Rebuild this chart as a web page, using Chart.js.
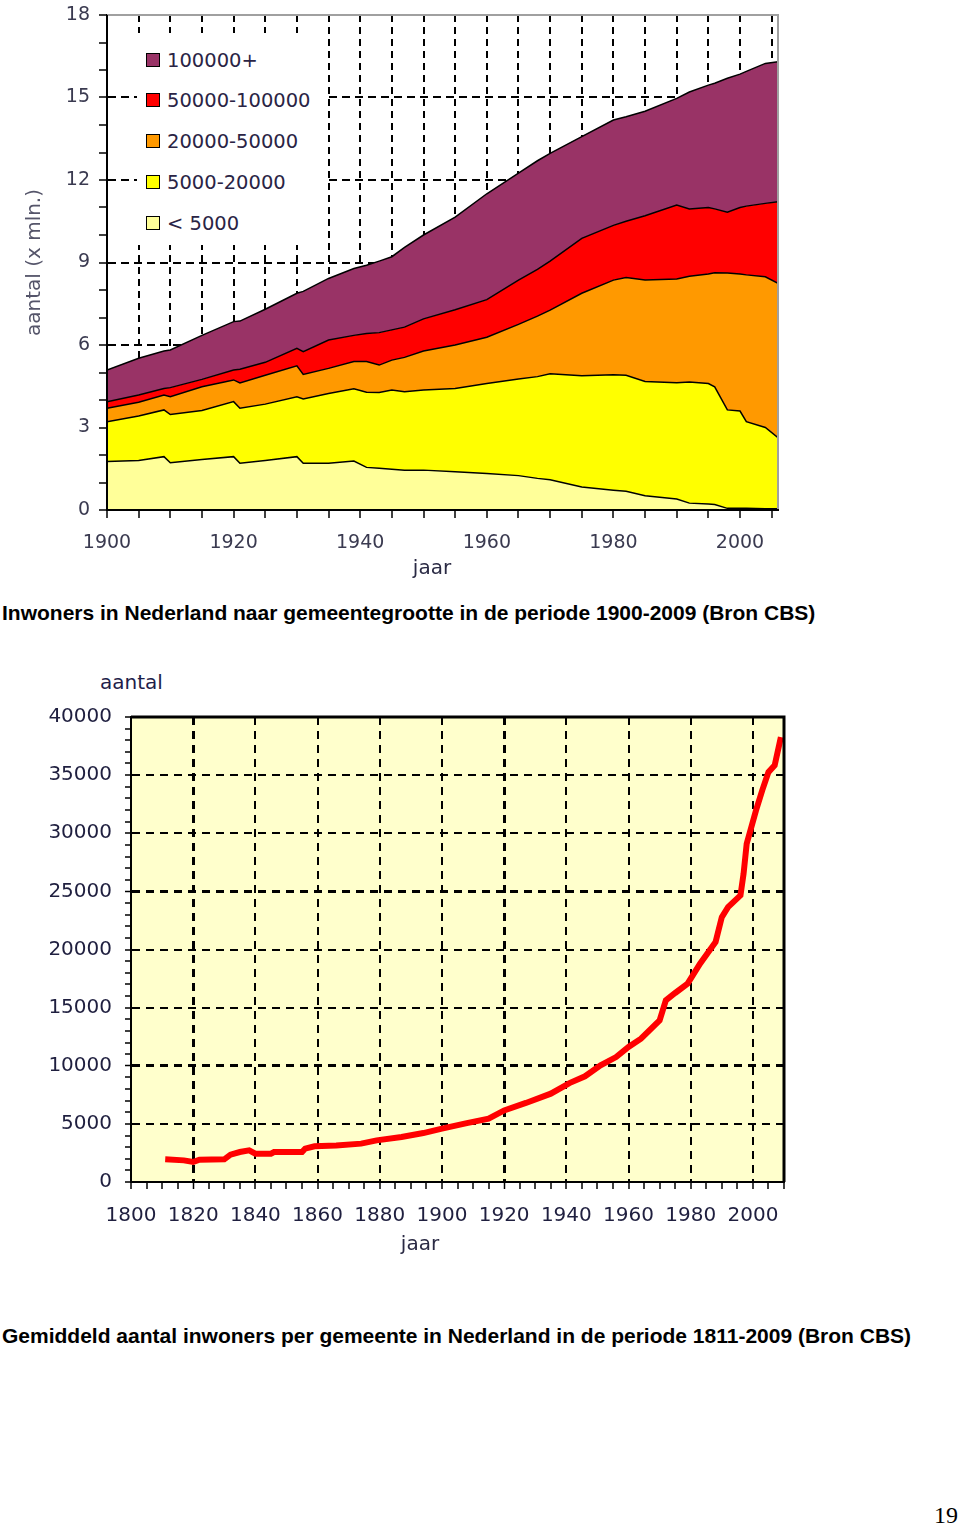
<!DOCTYPE html>
<html>
<head>
<meta charset="utf-8">
<script src="https://cdn.jsdelivr.net/npm/chart.js@4/dist/chart.umd.min.js"></script>
<style>
  body { margin: 0; background: #fff; width: 960px; height: 1524px; position: relative; font-family: "DejaVu Sans", sans-serif; }
  canvas { position: absolute; left: 0; }
  #bevolking { top: 0; }
  #gemiddeld { top: 700px; }
  .tekst { position: absolute; white-space: nowrap; line-height: 1; }
  .as { font-size: 20px; color: #2a2a44; transform: translate(-50%, -50%); }
  .bijschrift { font-family: "Liberation Sans", Arial, sans-serif; font-weight: bold; font-size: 21px; color: #000; left: 2px; transform: translateY(-50%); }
  #legenda { position: absolute; left: 137px; top: 33px; width: 190px; height: 212px; background: #fff; }
  #legenda .item { position: absolute; left: 9px; height: 20px; transform: translateY(-50%); display: flex; align-items: center; }
  #legenda .vak { width: 12px; height: 12px; border: 1px solid #000; }
  #legenda .naam { margin-left: 7px; font-size: 19.5px; color: #2a2445; }
  #pagina { font-family: "Liberation Serif", serif; font-size: 24px; right: 2px; top: 1515px; transform: translateY(-50%); }
</style>
</head>
<body>
<canvas id="bevolking" width="800" height="583"></canvas>
<div id="legenda"></div>
<div class="tekst as" style="left:432px; top:567px">jaar</div>
<div class="tekst bijschrift" style="top:612px">Inwoners in Nederland naar gemeentegrootte in de periode 1900-2009 (Bron CBS)</div>

<div class="tekst" style="left:100px; top:682px; font-size:20px; color:#1e1e4a; transform:translateY(-50%)">aantal</div>
<canvas id="gemiddeld" width="800" height="560"></canvas>
<div class="tekst as" style="left:420px; top:1243px">jaar</div>
<div class="tekst bijschrift" style="top:1335px">Gemiddeld aantal inwoners per gemeente in Nederland in de periode 1811-2009 (Bron CBS)</div>
<div class="tekst" id="pagina">19</div>

<script>
// inwoners (x mln.) per gemeentegrootte, 1900-2006
const jaren = [1900, 1905, 1909, 1910, 1915, 1920, 1921, 1925, 1930, 1931, 1935, 1939, 1941, 1943, 1945, 1947, 1950, 1955,
  1960, 1965, 1968, 1970, 1975, 1980, 1982, 1985, 1990, 1992, 1995, 1996, 1998, 2000, 2001, 2004, 2006];
const kleiner5000 = [1.76, 1.80, 1.94, 1.72, 1.84, 1.94, 1.70, 1.80, 1.94, 1.70, 1.70, 1.78, 1.55, 1.52, 1.48, 1.45, 1.45, 1.39,
  1.33, 1.25, 1.15, 1.10, 0.84, 0.72, 0.68, 0.52, 0.40, 0.25, 0.22, 0.20, 0.06, 0.06, 0.06, 0.05, 0.05];
const tot20000 = [1.45, 1.62, 1.70, 1.75, 1.78, 2.00, 2.00, 2.05, 2.18, 2.34, 2.54, 2.63, 2.73, 2.75, 2.88, 2.85, 2.91, 3.03,
  3.27, 3.51, 3.70, 3.85, 4.04, 4.20, 4.22, 4.15, 4.23, 4.40, 4.38, 4.28, 3.58, 3.54, 3.15, 2.95, 2.58];
const tot50000 = [0.49, 0.50, 0.54, 0.65, 0.86, 0.79, 0.92, 1.05, 1.12, 0.89, 0.91, 0.99, 1.12, 1.00, 1.09, 1.25, 1.42, 1.58,
  1.68, 1.99, 2.20, 2.32, 3.00, 3.44, 3.55, 3.69, 3.77, 3.85, 3.98, 4.15, 4.98, 4.98, 5.34, 5.48, 5.61];
const tot100000 = [0.24, 0.26, 0.24, 0.33, 0.27, 0.36, 0.50, 0.47, 0.64, 0.83, 1.03, 0.95, 1.02, 1.18, 1.10, 1.10, 1.17, 1.28,
  1.37, 1.61, 1.70, 1.78, 2.00, 1.99, 2.05, 2.34, 2.69, 2.45, 2.42, 2.32, 2.21, 2.42, 2.50, 2.67, 2.97];
const boven100000 = [1.15, 1.34, 1.36, 1.37, 1.60, 1.76, 1.75, 1.93, 2.00, 2.19, 2.24, 2.43, 2.48, 2.60, 2.66, 2.90, 3.05, 3.37,
  3.85, 3.89, 3.95, 3.92, 3.70, 3.83, 3.80, 3.80, 3.88, 4.25, 4.45, 4.57, 4.87, 4.85, 4.90, 5.09, 5.09];
const klassen = ['< 5000', '5000-20000', '20000-50000', '50000-100000', '100000+'];
const kleuren = ['#FFFF99', '#FFFF00', '#FF9900', '#FF0000', '#993366'];

// gemiddeld aantal inwoners per gemeente, 1811-2009
const gemJaren = [1811, 1817, 1820, 1822, 1830, 1832, 1835, 1838, 1840, 1845, 1846, 1855, 1856, 1859, 1866, 1874, 1879, 1887,
  1894, 1900, 1908, 1915, 1920, 1927, 1935, 1941, 1946, 1951, 1956, 1960, 1964, 1970, 1972, 1975, 1979, 1983, 1988, 1990,
  1992, 1996, 1997, 1998, 2001, 2003, 2005, 2007, 2009];
const gemiddeld = [1950, 1860, 1720, 1920, 1950, 2350, 2580, 2720, 2440, 2440, 2580, 2580, 2870, 3070, 3150, 3300, 3580, 3870,
  4210, 4590, 5070, 5450, 6160, 6800, 7600, 8510, 9090, 10030, 10750, 11610, 12330, 13900, 15630, 16260, 17060, 18780, 20640, 22790,
  23650, 24660, 26520, 29100, 31970, 33690, 35260, 35840, 38270];

Chart.defaults.font.family = 'DejaVu Sans';

// kader rond het grafiekvlak, na de datasets getekend
function kader(kleurBoven, breedteBoven, vlak) {
  return {
    id: 'kader',
    beforeDraw(chart) {
      if (!vlak) return;
      const { ctx, chartArea: a } = chart;
      ctx.save();
      ctx.fillStyle = vlak;
      ctx.fillRect(a.left, a.top, a.right - a.left, a.bottom - a.top);
      ctx.restore();
    },
    afterDatasetsDraw(chart) {
      const { ctx, chartArea: a } = chart;
      ctx.save();
      ctx.strokeStyle = kleurBoven;
      ctx.lineWidth = breedteBoven;
      ctx.beginPath();
      ctx.moveTo(a.left, a.top); ctx.lineTo(a.right, a.top); ctx.lineTo(a.right, a.bottom);
      ctx.stroke();
      ctx.strokeStyle = '#000';
      ctx.lineWidth = 2;
      ctx.beginPath();
      ctx.moveTo(a.left, a.top); ctx.lineTo(a.left, a.bottom); ctx.lineTo(a.right + 1, a.bottom);
      ctx.stroke();
      ctx.restore();
    }
  };
}

// vaste asmaten, zonder extra ruimte voor labels aan de randen
const vastX = h => s => { s.height = h; s.paddingLeft = 0; s.paddingRight = 0; };
const vastY = w => s => { s.width = w; s.paddingTop = 0; s.paddingBottom = 0; };

const reeksen = [kleiner5000, tot20000, tot50000, tot100000, boven100000];

const grafiek1 = new Chart(document.getElementById('bevolking'), {
  type: 'line',
  data: {
    datasets: reeksen.map((r, i) => ({
      label: klassen[i],
      data: jaren.map((j, k) => ({ x: j, y: r[k] })),
      backgroundColor: kleuren[i],
      borderColor: '#000',
      borderWidth: 1.5,
      fill: i === 0 ? 'origin' : '-1',
      pointRadius: 0,
      tension: 0
    }))
  },
  options: {
    responsive: false,
    animation: false,
    layout: { padding: { left: 19, top: 15, right: 22, bottom: 0 } },
    plugins: { legend: { display: false }, tooltip: { enabled: false } },
    scales: {
      x: {
        type: 'linear', min: 1900, max: 2006,
        afterFit: vastX(73),
        ticks: {
          stepSize: 5, includeBounds: false, autoSkip: false, maxRotation: 0, padding: 14,
          color: '#3a3a50', font: { size: 19 },
          callback: v => (v % 20 === 0 ? String(v) : '')
        },
        grid: {
          color: c => (c.tick && c.tick.value > 1900 ? '#000' : 'rgba(0,0,0,0)'),
          lineWidth: 2, tickColor: '#000', tickLength: 8, tickWidth: 1.5
        },
        border: { color: '#000', width: 2, dash: [7, 5] }
      },
      y: {
        stacked: true, min: 0, max: 18,
        afterFit: vastY(88),
        ticks: {
          stepSize: 1, autoSkip: false, padding: 9, color: '#3a3a50', font: { size: 19 },
          callback: v => (v % 3 === 0 ? String(v) : '')
        },
        grid: {
          color: c => (c.tick && c.tick.value % 3 === 0 && c.tick.value > 0 && c.tick.value < 18 ? '#000' : 'rgba(0,0,0,0)'),
          lineWidth: 2, tickColor: '#000', tickLength: 8, tickWidth: 1.5
        },
        border: { color: '#000', width: 2, dash: [8, 5] },
        title: { display: true, text: 'aantal (x mln.)', color: '#55556a', font: { size: 20 } }
      }
    }
  },
  plugins: [kader('#a0a0a0', 2)]
});

// legenda, van boven naar beneden
const legenda = document.getElementById('legenda');
const rijen = [27, 67, 108, 149, 190];
grafiek1.data.datasets.slice().reverse().forEach((d, i) => {
  const item = document.createElement('div');
  item.className = 'item';
  item.style.top = rijen[i] + 'px';
  item.innerHTML = '<div class="vak" style="background:' + d.backgroundColor + '"></div><span class="naam"></span>';
  item.querySelector('.naam').textContent = d.label;
  legenda.appendChild(item);
});

new Chart(document.getElementById('gemiddeld'), {
  type: 'line',
  data: {
    datasets: [{
      label: 'gemiddeld aantal inwoners',
      data: gemJaren.map((j, k) => ({ x: j, y: gemiddeld[k] })),
      borderColor: '#FF0000',
      borderWidth: 6,
      pointRadius: 0,
      tension: 0,
      fill: false
    }]
  },
  options: {
    responsive: false,
    animation: false,
    layout: { padding: { left: 0, top: 17, right: 16, bottom: 0 } },
    plugins: { legend: { display: false }, tooltip: { enabled: false } },
    scales: {
      x: {
        type: 'linear', min: 1800, max: 2010,
        afterFit: vastX(78),
        ticks: {
          stepSize: 5, includeBounds: false, autoSkip: false, maxRotation: 0, padding: 15,
          color: '#1f1f3f', font: { size: 20 },
          callback: v => (v % 20 === 0 ? String(v) : '')
        },
        grid: {
          color: c => (c.tick && c.tick.value % 20 === 0 && c.tick.value > 1800 ? '#000' : 'rgba(0,0,0,0)'),
          lineWidth: c => (c.tick && (c.tick.value === 1820 || c.tick.value === 1920) ? 3 : 2),
          tickColor: '#000', tickLength: 7, tickWidth: 1.5
        },
        border: { color: '#000', width: 2, dash: [8, 6] }
      },
      y: {
        min: 0, max: 40000,
        afterFit: vastY(131),
        ticks: {
          stepSize: 1000, autoSkip: false, padding: 13, color: '#1f1f3f', font: { size: 20 },
          callback: v => (v % 5000 === 0 ? String(v) : '')
        },
        grid: {
          color: c => (c.tick && c.tick.value % 5000 === 0 && c.tick.value > 0 && c.tick.value < 40000 ? '#000' : 'rgba(0,0,0,0)'),
          lineWidth: c => (c.tick && (c.tick.value === 10000 || c.tick.value === 25000) ? 3 : 2),
          tickColor: '#000', tickLength: 6, tickWidth: 1.5
        },
        border: { color: '#000', width: 2, dash: [8, 6] }
      }
    }
  },
  plugins: [kader('#000', 3, '#FFFFCC')]
});
</script>
</body>
</html>
